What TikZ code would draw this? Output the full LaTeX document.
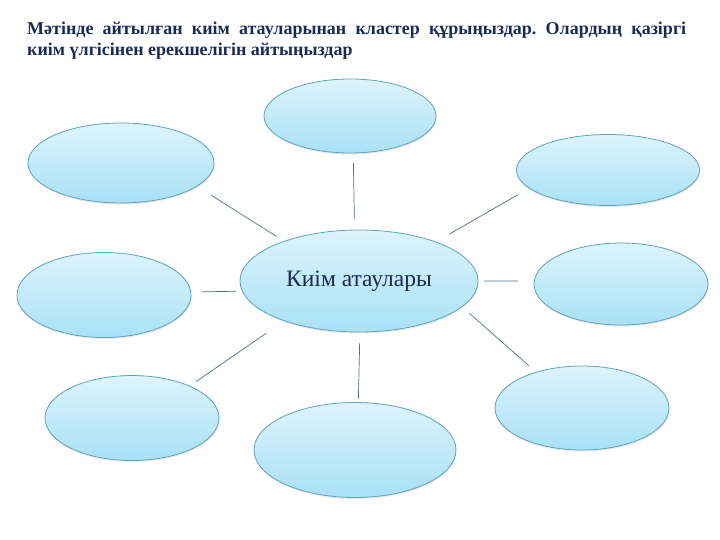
\documentclass[tikz,border=0pt]{standalone}
\usepackage{fontspec}
\setmainfont{Liberation Serif}
\usepackage{tikz}
\usetikzlibrary{shapes.geometric,shadows}
\definecolor{bubbleline}{HTML}{5FA3BA}
\definecolor{bubbletop}{HTML}{DDF4FC}
\definecolor{bubblebot}{HTML}{A9E1F6}
\definecolor{linkcol}{HTML}{4F6E8E}
\definecolor{titlecol}{HTML}{1B2A55}
\frenchspacing

\begin{document}
\begin{tikzpicture}[x=1pt, y=-1pt,
	bubble/.style={ellipse, draw=bubbleline, line width=0.8pt, top color=bubbletop, bottom color=bubblebot,
		inner sep=0pt, outer sep=0pt, drop shadow={opacity=0.18, shadow xshift=0.5pt, shadow yshift=-1.5pt}},
	link/.style={draw=linkcol, line width=0.7pt}]
\useasboundingbox (0,0) rectangle (720,540);

\node[anchor=north west, text width=659pt, align=justify, inner sep=0pt, text=titlecol,
	font=\bfseries\fontsize{18}{21}\selectfont] (title) at (27,22)
	{Мәтінде айтылған киім атауларынан кластер құрыңыздар. Олардың қазіргі\linebreak киім үлгісінен ерекшелігін айтыңыздар};

\node[bubble, minimum width=238pt, minimum height=102pt, text=titlecol, font=\fontsize{23.5}{27}\selectfont] (kiim) at (359,281) {Киім атаулары};
\node[bubble, minimum width=172pt, minimum height=74pt] (top) at (350,116) {};
\node[bubble, minimum width=186pt, minimum height=80pt] (topL) at (121,163) {};
\node[bubble, minimum width=183pt, minimum height=71pt] (topR) at (608,170) {};
\node[bubble, minimum width=174pt, minimum height=85pt] (left) at (104,295) {};
\node[bubble, minimum width=174pt, minimum height=82pt] (right) at (621,284) {};
\node[bubble, minimum width=174pt, minimum height=85pt] (botL) at (132,418) {};
\node[bubble, minimum width=202pt, minimum height=95pt] (bot) at (355,450) {};
\node[bubble, minimum width=174pt, minimum height=84pt] (botR) at (582,408) {};

\path[link]
(kiim.95) edge [shorten <=11pt, shorten >=10pt] (top.-85)
(kiim.152) edge [shorten <=9pt, shorten >=17pt] (topL.-17)
(kiim.27) edge [shorten <=16pt, shorten >=13pt] (topR.193)
(kiim.185) edge [shorten <=6pt, shorten >=11pt] (left.2)
(kiim.0) edge [shorten <=6pt, shorten >=16pt] (right.178)
(kiim.208) edge [shorten <=22pt, shorten >=8pt] (botL.29)
(kiim.-89) edge [shorten <=11pt, shorten >=4pt] (bot.86)
(kiim.-14) edge [shorten <=10pt, shorten >=10pt] (botR.142)
;
\end{tikzpicture}
\end{document}
